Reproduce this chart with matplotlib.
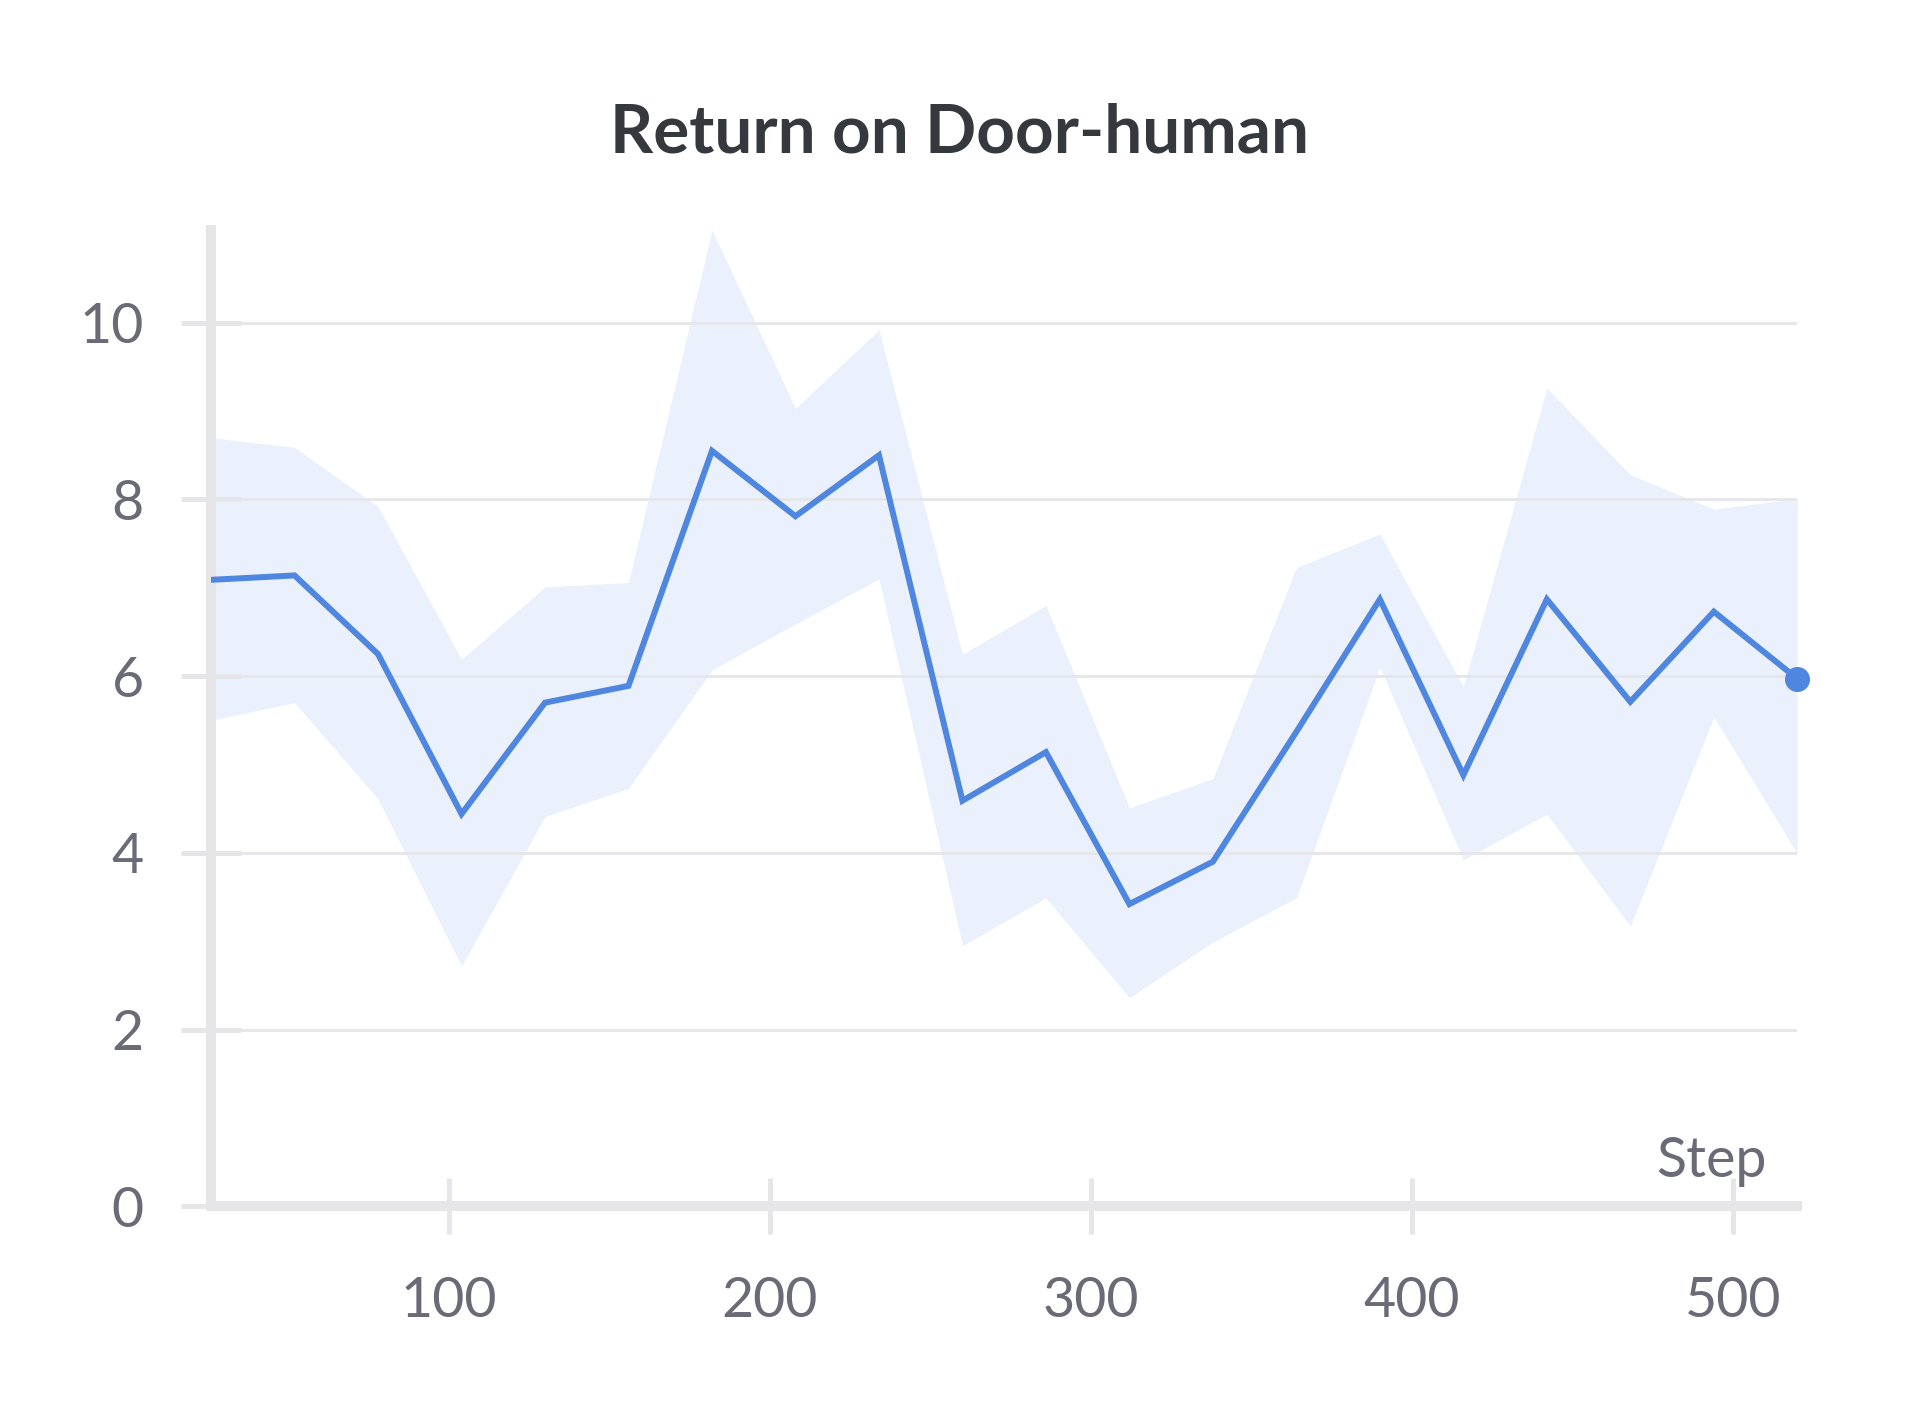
import matplotlib.pyplot as plt

steps = [26, 52, 78, 104, 130, 156, 182, 208, 234, 260,
         286, 312, 338, 364, 390, 416, 442, 468, 494, 520]
mean = [7.09, 7.14, 6.25, 4.44, 5.70, 5.89, 8.55, 7.81, 8.50, 4.59,
        5.14, 3.42, 3.90, 5.37, 6.87, 4.88, 6.87, 5.71, 6.73, 5.97]
upper = [8.70, 8.59, 7.92, 6.19, 7.01, 7.06, 11.05, 9.03, 9.92, 6.25,
         6.80, 4.51, 4.84, 7.23, 7.61, 5.88, 9.26, 8.28, 7.89, 8.01]
lower = [5.50, 5.70, 4.61, 2.72, 4.41, 4.73, 6.07, 6.59, 7.10, 2.95,
         3.49, 2.36, 2.99, 3.49, 6.10, 3.92, 4.44, 3.17, 5.54, 3.99]
xticks = [100, 200, 300, 400, 500]
yticks = [0, 2, 4, 6, 8, 10]

plt.rcParams['font.family'] = ['Lato', 'DejaVu Sans']

line_c = '#4f86df'
band_c = '#ebf1fc'
axis_c = '#e6e6e8'
text_c = '#6b6b78'

fig = plt.figure(figsize=(19.1, 14.1), dpi=100)
ax = fig.add_axes([0.1105, 0.1445, 0.8305, 0.6924])

ax.fill_between(steps, lower, upper, color=band_c, lw=0, zorder=1)
ax.plot(steps, mean, color=line_c, lw=4.3, zorder=3, solid_joinstyle='miter')
ax.plot(steps[-1], mean[-1], 'o', color=line_c, ms=17, zorder=4, clip_on=False)

ax.set_xlim(26, 520)
ax.set_ylim(0, 11.05)
ax.set_xticks(xticks)
ax.set_yticks(yticks)

for side in ['top', 'right']:
    ax.spines[side].set_visible(False)
for side in ['left', 'bottom']:
    ax.spines[side].set_color(axis_c)
    ax.spines[side].set_linewidth(7.2)
    ax.spines[side].set_zorder(2.6)

ax.set_axisbelow(False)
ax.yaxis.grid(True, color='#e6e6ea', lw=2, zorder=2)
ax.tick_params(axis='both', direction='inout', color=axis_c, width=3.6,
               labelsize=40, labelcolor=text_c)
ax.tick_params(axis='y', length=43, pad=27)
ax.tick_params(axis='x', length=41, pad=30)

ax.text(0.981, 0.03, 'Step', transform=ax.transAxes, ha='right', va='baseline',
        fontsize=40, color=text_c)

fig.text(0.5026, 0.892, 'Return on Door-human', ha='center', va='baseline',
         fontsize=48.5, fontweight='bold', color='#35393e')

fig.savefig('out.png', dpi=100, facecolor='white')
